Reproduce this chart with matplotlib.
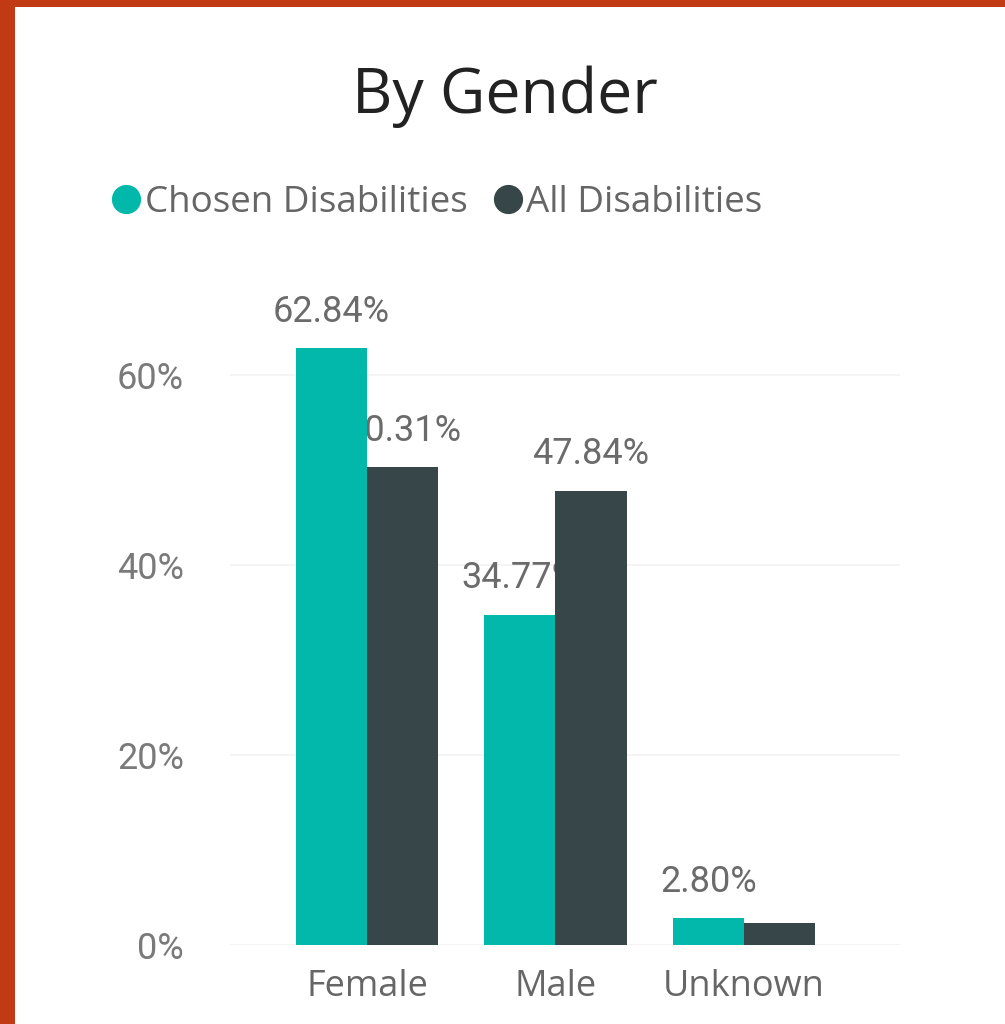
import matplotlib
matplotlib.use("Agg")
import matplotlib.pyplot as plt
from matplotlib.patches import Rectangle
from matplotlib.lines import Line2D
import numpy as np

categories = ["Female", "Male", "Unknown"]
chosen = [62.84, 34.77, 2.80]
all_dis = [50.31, 47.84, 2.30]
chosen_labels = ["62.84%", "34.77%", "2.80%"]
all_labels = ["50.31%", "47.84%", None]
yticks = [0, 20, 40, 60]
ytick_labels = ["0%", "20%", "40%", "60%"]
series_names = ["Chosen Disabilities", "All Disabilities"]

TEAL = "#01B8AA"
DARK = "#374649"
W, H = 1005, 1024

fig = plt.figure(figsize=(W / 100, H / 100), dpi=100)
fig.patch.set_facecolor("#C23A14")
fig.patches.append(Rectangle((15 / W, 0), 1 - 15 / W, 1 - 7 / H, transform=fig.transFigure,
                             facecolor="white", edgecolor="none", zorder=-10))

ax = fig.add_axes([230 / W, 1 - 945 / H, (900 - 230) / W, (945 - 280) / H])
ax.set_zorder(1)
ax.set_facecolor("none")
x = np.arange(len(categories))
bw = 0.377
ax.bar(x - bw / 2, chosen, bw, color=TEAL, zorder=3)
ax.bar(x + bw / 2, all_dis, bw, color=DARK, zorder=3)

num_font = dict(family="Roboto", fontsize=26, color="#6b6b6b")
for xi, v, lab in zip(x - bw / 2, chosen, chosen_labels):
    if lab:
        ax.annotate(lab, (xi, v), xytext=(0, 19), textcoords="offset points",
                    ha="center", va="baseline", zorder=1, **num_font)
for xi, v, lab in zip(x + bw / 2, all_dis, all_labels):
    if lab:
        ax.annotate(lab, (xi, v), xytext=(0, 19), textcoords="offset points",
                    ha="center", va="baseline", zorder=1, **num_font)

ax.set_xlim(-0.727, 2.828)
ax.set_ylim(0, 70)
ax.set_yticks(yticks)
ax.set_yticklabels(ytick_labels, family="Roboto", fontsize=26, color="#7a7a7a")
ax.set_xticks(x)
ax.set_xticklabels(categories, family="Open Sans", fontsize=26, color="#666666")
ax.tick_params(axis="y", length=0, pad=33)
ax.tick_params(axis="x", length=0, pad=17)
for s in ax.spines.values():
    s.set_visible(False)
ax.grid(axis="y", color="#f2f2f2", lw=1.2, zorder=0)
ax.set_axisbelow(True)

fig.text(505 / W, 1 - 97 / H, "By Gender", ha="center", va="center",
         family="Open Sans", fontsize=45, color="#222222")

handles = [Line2D([], [], marker="o", ls="none", markersize=20, color=TEAL),
           Line2D([], [], marker="o", ls="none", markersize=20, color=DARK)]
leg = fig.legend(handles, series_names, loc="center left",
                 bbox_to_anchor=(106 / W, 1 - 203 / H), ncol=2, frameon=False,
                 prop=dict(family="Open Sans", size=26.5), handletextpad=-0.05,
                 columnspacing=0.55, handlelength=1.1, borderaxespad=0, borderpad=0)
for t in leg.get_texts():
    t.set_color("#666666")

fig.savefig("out.png", dpi=100)
